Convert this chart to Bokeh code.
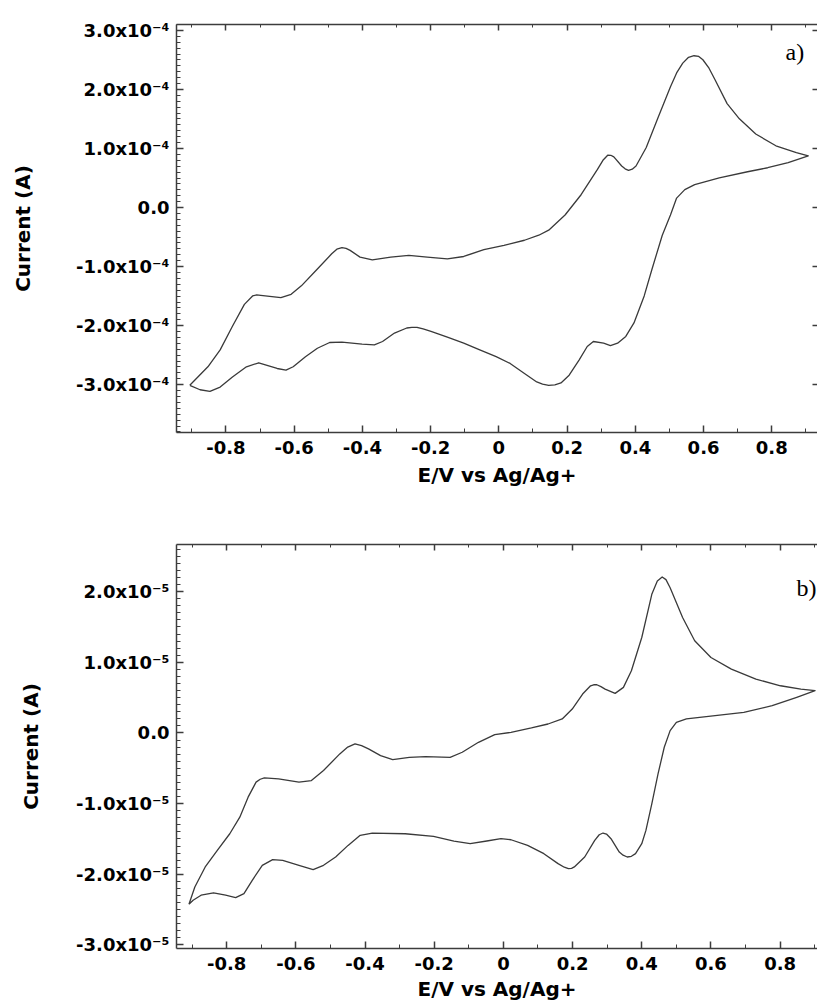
from bokeh.plotting import figure
from bokeh.layouts import column
from bokeh.models import (LinearAxis, FixedTicker, CustomJSTickFormatter, Range1d, Label)
from bokeh.embed import file_html
from bokeh.resources import INLINE

# ---------------- data (potential in V, current in units of SCALE A) ----------------
A_SCALE = 1e-4
a_fwd_E = [-0.906, -0.853, -0.817, -0.781, -0.746, -0.722, -0.710, -0.698, -0.639, -0.609,
           -0.579, -0.532, -0.490, -0.475, -0.460, -0.448, -0.436, -0.407, -0.371, -0.317,
           -0.264, -0.210, -0.151, -0.103, -0.044, 0.015, 0.075, 0.117, 0.146, 0.194,
           0.241, 0.289, 0.305, 0.319, 0.328, 0.337, 0.360, 0.370, 0.380, 0.391,
           0.402, 0.432, 0.467, 0.503, 0.521, 0.539, 0.556, 0.572, 0.586, 0.598,
           0.616, 0.634, 0.669, 0.705, 0.753, 0.812, 0.872, 0.907]
a_fwd_I = [-3.011, -2.697, -2.411, -2.011, -1.640, -1.497, -1.480, -1.486, -1.526, -1.469,
           -1.326, -1.040, -0.783, -0.705, -0.680, -0.692, -0.726, -0.840, -0.886, -0.840,
           -0.811, -0.840, -0.869, -0.829, -0.714, -0.640, -0.554, -0.469, -0.383, -0.126,
           0.217, 0.646, 0.800, 0.886, 0.885, 0.857, 0.703, 0.655, 0.629, 0.650,
           0.703, 1.017, 1.531, 2.046, 2.280, 2.446, 2.545, 2.571, 2.560, 2.503,
           2.360, 2.160, 1.760, 1.503, 1.246, 1.046, 0.931, 0.874]
a_rev_E = [0.907, 0.848, 0.788, 0.729, 0.646, 0.574, 0.545, 0.521, 0.503, 0.479,
           0.449, 0.426, 0.396, 0.372, 0.348, 0.327, 0.307, 0.277, 0.259, 0.235,
           0.206, 0.182, 0.164, 0.146, 0.128, 0.111, 0.075, 0.033, -0.008, -0.056,
           -0.103, -0.151, -0.199, -0.222, -0.240, -0.255, -0.270, -0.306, -0.341, -0.365,
           -0.401, -0.460, -0.496, -0.532, -0.567, -0.603, -0.624, -0.650, -0.704, -0.740,
           -0.781, -0.817, -0.847, -0.876, -0.906]
a_rev_I = [0.874, 0.760, 0.674, 0.606, 0.503, 0.389, 0.303, 0.160, -0.126, -0.469,
           -1.040, -1.497, -1.954, -2.183, -2.297, -2.337, -2.297, -2.269, -2.354, -2.583,
           -2.840, -2.971, -3.003, -3.011, -2.992, -2.954, -2.811, -2.640, -2.526, -2.411,
           -2.297, -2.194, -2.097, -2.055, -2.029, -2.030, -2.040, -2.126, -2.269, -2.326,
           -2.314, -2.280, -2.286, -2.383, -2.526, -2.697, -2.754, -2.726, -2.629, -2.697,
           -2.869, -3.040, -3.114, -3.086, -3.011]

B_SCALE = 1e-5
b_fwd_E = [-0.909, -0.892, -0.862, -0.827, -0.791, -0.762, -0.738, -0.715, -0.703, -0.691,
           -0.650, -0.591, -0.555, -0.520, -0.473, -0.450, -0.429, -0.410, -0.390, -0.355,
           -0.320, -0.272, -0.225, -0.154, -0.119, -0.072, -0.025, 0.022, 0.081, 0.129,
           0.170, 0.199, 0.229, 0.252, 0.261, 0.270, 0.282, 0.294, 0.323, 0.347,
           0.370, 0.400, 0.429, 0.445, 0.459, 0.470, 0.482, 0.518, 0.553, 0.600,
           0.659, 0.730, 0.801, 0.860, 0.901]
b_fwd_I = [-2.424, -2.179, -1.896, -1.661, -1.426, -1.191, -0.908, -0.696, -0.655, -0.635,
           -0.649, -0.696, -0.673, -0.532, -0.296, -0.200, -0.155, -0.180, -0.226, -0.320,
           -0.376, -0.344, -0.334, -0.344, -0.273, -0.132, -0.024, 0.009, 0.071, 0.127,
           0.198, 0.339, 0.551, 0.668, 0.682, 0.682, 0.655, 0.621, 0.560, 0.645,
           0.880, 1.351, 1.962, 2.150, 2.207, 2.170, 2.056, 1.633, 1.304, 1.068,
           0.904, 0.762, 0.668, 0.621, 0.598]
b_rev_E = [0.901, 0.848, 0.777, 0.695, 0.612, 0.529, 0.500, 0.482, 0.465, 0.447,
           0.429, 0.412, 0.400, 0.382, 0.370, 0.358, 0.346, 0.335, 0.311, 0.298,
           0.288, 0.277, 0.264, 0.235, 0.205, 0.197, 0.188, 0.176, 0.158, 0.117,
           0.070, 0.022, -0.007, -0.048, -0.096, -0.143, -0.202, -0.284, -0.379, -0.414,
           -0.449, -0.485, -0.520, -0.550, -0.591, -0.638, -0.667, -0.697, -0.726, -0.750,
           -0.774, -0.803, -0.838, -0.874, -0.897, -0.909]
b_rev_I = [0.598, 0.504, 0.386, 0.292, 0.245, 0.198, 0.151, 0.033, -0.202, -0.579,
           -1.002, -1.379, -1.567, -1.708, -1.745, -1.755, -1.730, -1.685, -1.496, -1.430,
           -1.416, -1.440, -1.520, -1.755, -1.896, -1.915, -1.920, -1.900, -1.849, -1.708,
           -1.591, -1.511, -1.496, -1.529, -1.567, -1.529, -1.464, -1.426, -1.416, -1.449,
           -1.591, -1.755, -1.873, -1.934, -1.873, -1.802, -1.793, -1.873, -2.085, -2.273,
           -2.329, -2.296, -2.264, -2.296, -2.367, -2.424]

x_ticks = [-0.8, -0.6, -0.4, -0.2, 0.0, 0.2, 0.4, 0.6, 0.8]
x_tick_labels = ["-0.8", "-0.6", "-0.4", "-0.2", "0", "0.2", "0.4", "0.6", "0.8"]
x_minor = [-0.9, -0.7, -0.5, -0.3, -0.1, 0.1, 0.3, 0.5, 0.7, 0.9]

a_y_ticks = [-3e-4, -2e-4, -1e-4, 0.0, 1e-4, 2e-4, 3e-4]
a_y_labels = ["-3.0x10\u207b\u2074", "-2.0x10\u207b\u2074", "-1.0x10\u207b\u2074", "0.0",
              "1.0x10\u207b\u2074", "2.0x10\u207b\u2074", "3.0x10\u207b\u2074"]
b_y_ticks = [-3e-5, -2e-5, -1e-5, 0.0, 1e-5, 2e-5]
b_y_labels = ["-3.0x10\u207b\u2075", "-2.0x10\u207b\u2075", "-1.0x10\u207b\u2075", "0.0",
              "1.0x10\u207b\u2075", "2.0x10\u207b\u2075"]

x_title = "E/V vs Ag/Ag+"
y_title = "Current (A)"

FONT = "DejaVu Sans"
AX = "#3c3c3c"
LINE = "#3a3a3a"


def fmt(tvals, tlabels):
    return CustomJSTickFormatter(args=dict(tvals=tvals, tlabels=tlabels), code="""
        for (let i = 0; i < tvals.length; i++) {
            if (Math.abs(tvals[i] - tick) < 1e-12) { return tlabels[i]; }
        }
        return "";
    """)


def style_axis(ax, major_in, minor_in, line=True):
    ax.major_tick_in = major_in
    ax.major_tick_out = 0
    ax.minor_tick_in = minor_in
    ax.minor_tick_out = 0
    ax.axis_line_color = AX if line else None
    ax.axis_line_width = 1.5
    ax.major_tick_line_color = AX
    ax.minor_tick_line_color = AX
    ax.major_tick_line_width = 1.5
    ax.minor_tick_line_width = 1


def blank_labels(ax):
    ax.major_label_text_font_size = "0px"
    ax.major_label_text_color = None
    ax.major_label_text_alpha = 0
    ax.major_label_standoff = 0
    ax.axis_label = None


def make_plot(E_f, I_f, E_r, I_r, scale, xr, yr, yticks, ylabels, ymin_step,
              height, b_left, b_top, b_bottom, right_axis, tag, tag_x, tag_y,
              ls_x, ls_y):
    p = figure(width=817, height=height, output_backend="svg", toolbar_location=None,
               x_range=Range1d(*xr), y_range=Range1d(*yr),
               min_border_left=b_left, min_border_right=0,
               min_border_top=b_top, min_border_bottom=b_bottom,
               x_axis_location=None, y_axis_location=None)
    p.outline_line_color = None
    p.grid.visible = False
    p.background_fill_color = "white"
    p.border_fill_color = "white"

    y_minor = []
    k = round(yr[0] / ymin_step)
    while k * ymin_step <= yr[1]:
        y_minor.append(k * ymin_step)
        k += 1

    # bottom axis
    xb = LinearAxis(ticker=FixedTicker(ticks=x_ticks, minor_ticks=x_minor),
                    formatter=fmt(x_ticks, x_tick_labels))
    style_axis(xb, 7, 4)
    xb.axis_label = x_title
    xb.axis_label_text_font = FONT
    xb.axis_label_text_font_style = "bold"
    xb.axis_label_text_font_size = "20px"
    xb.axis_label_text_color = "black"
    xb.axis_label_standoff = ls_x
    xb.major_label_text_font = FONT
    xb.major_label_text_font_style = "bold"
    xb.major_label_text_font_size = "18px"
    xb.major_label_text_color = "black"
    xb.major_label_standoff = 8
    p.add_layout(xb, "below")

    # top axis (ticks only)
    xt = LinearAxis(ticker=FixedTicker(ticks=x_ticks, minor_ticks=x_minor))
    style_axis(xt, 6, 3)
    blank_labels(xt)
    p.add_layout(xt, "above")

    # left axis
    yl = LinearAxis(ticker=FixedTicker(ticks=yticks, minor_ticks=y_minor),
                    formatter=fmt(yticks, ylabels))
    style_axis(yl, 7, 4)
    yl.axis_label = y_title
    yl.axis_label_text_font = FONT
    yl.axis_label_text_font_style = "bold"
    yl.axis_label_text_font_size = "20px"
    yl.axis_label_text_color = "black"
    yl.axis_label_standoff = ls_y
    yl.major_label_text_font = FONT
    yl.major_label_text_font_style = "bold"
    yl.major_label_text_font_size = "18px"
    yl.major_label_text_color = "black"
    yl.major_label_standoff = 7
    p.add_layout(yl, "left")

    if right_axis:
        yr_ax = LinearAxis(ticker=FixedTicker(ticks=yticks, minor_ticks=[]))
        style_axis(yr_ax, 5, 0, line=False)
        blank_labels(yr_ax)
        p.add_layout(yr_ax, "right")

    E = list(E_f) + list(E_r)
    I = [v * scale for v in list(I_f) + list(I_r)]
    p.line(E, I, line_color=LINE, line_width=1.3, line_join="round")

    p.add_layout(Label(x=tag_x, y=tag_y, text=tag, text_font="Liberation Serif",
                       text_font_size="24px", text_align="right", text_baseline="top",
                       text_color="black"))
    return p


pa = make_plot(a_fwd_E, a_fwd_I, a_rev_E, a_rev_I, A_SCALE,
               (-0.945, 0.934), (-3.81e-4, 3.10e-4), a_y_ticks, a_y_labels, 1e-5,
               500, 167, 24, 68, True, "a)", 0.895, 2.86e-4, 6, 38)
pb = make_plot(b_fwd_E, b_fwd_I, b_rev_E, b_rev_I, B_SCALE,
               (-0.945, 0.908), (-3.05e-5, 2.667e-5), b_y_ticks, b_y_labels, 1e-6,
               504, 176, 44, 56, False, "b)", 0.905, 2.24e-5, 4, 30)

layout = column(pa, pb, spacing=0)
open("out.html", "w").write(file_html(layout, INLINE))
